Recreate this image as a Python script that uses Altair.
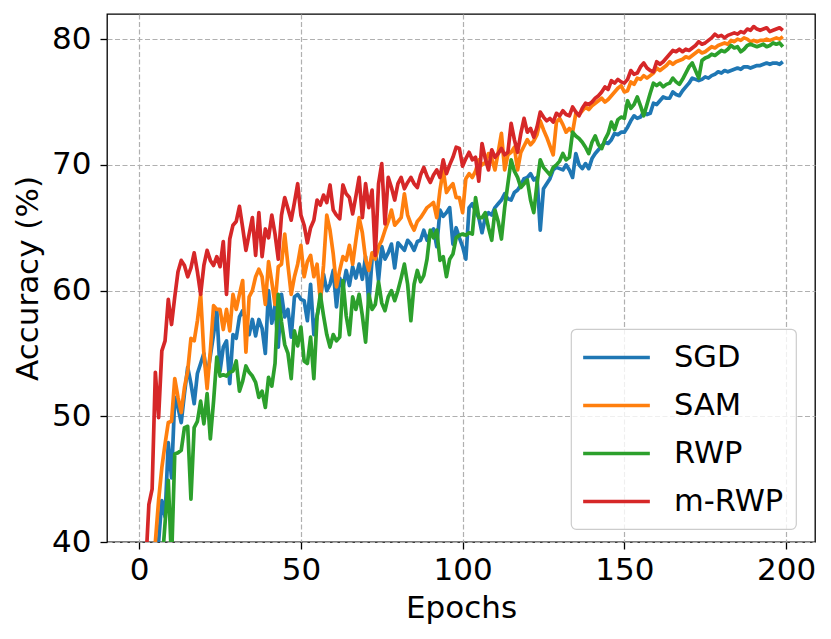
import altair as alt
import pandas as pd

methods = ["SGD", "SAM", "RWP", "m-RWP"]
colors = ["#1f77b4", "#ff7f0e", "#2ca02c", "#d62728"]
epochs = list(range(200))
x_ticks = [0, 50, 100, 150, 200]
y_ticks = [40, 50, 60, 70, 80]

sgd = [
    20.0, 25.0, 29.0, 32.0, 35.0, 37.0, 40.0, 43.3, 42.0, 47.9,
    45.1, 51.5, 50.7, 49.5, 51.8, 53.9, 52.6, 51.0, 53.4, 54.2,
    55.0, 53.1, 54.8, 56.5, 58.4, 53.6, 55.5, 56.0, 52.6, 56.5,
    56.2, 57.9, 58.4, 57.7, 56.5, 57.7, 56.4, 57.7, 57.0, 55.0,
    60.0, 57.4, 58.8, 55.5, 59.7, 57.9, 58.5, 56.3, 59.5, 59.7,
    59.3, 59.2, 57.6, 60.5, 56.5, 58.0, 59.2, 61.3, 60.0, 60.5,
    61.6, 58.7, 61.0, 60.2, 61.6, 60.4, 61.9, 61.0, 62.1, 60.9,
    62.7, 58.9, 62.5, 63.3, 60.8, 63.5, 62.5, 63.0, 63.7, 61.8,
    63.8, 63.5, 63.2, 64.0, 63.7, 63.2, 63.9, 64.0, 64.8, 64.0,
    64.6, 64.9, 63.5, 66.4, 65.9, 66.2, 66.6, 63.7, 65.0, 64.2,
    63.5, 62.5, 66.6, 66.9, 66.3, 65.8, 64.6, 65.8, 66.2, 66.0,
    66.6, 66.9, 67.2, 67.7, 67.3, 67.2, 67.8, 68.0, 68.4, 68.9,
    69.0, 69.3, 68.8, 69.0, 64.8, 68.1, 68.5, 68.9, 69.6, 69.8,
    69.7, 69.6, 70.0, 69.6, 69.0, 70.9, 70.0, 69.7, 70.1, 69.7,
    70.5, 70.9, 71.2, 71.5, 71.8, 71.7, 72.0, 72.5, 72.4, 72.6,
    72.6, 73.0, 73.5, 73.9, 73.7, 73.8, 74.2, 74.0, 74.1, 74.9,
    74.8, 75.1, 75.4, 75.3, 75.3, 75.8, 75.6, 75.5, 75.9, 76.2,
    76.5, 76.9, 76.8, 76.7, 76.8, 77.0, 76.9, 77.1, 77.2, 77.4,
    77.3, 77.5, 77.4, 77.5, 77.6, 77.7, 77.6, 77.8, 77.8, 77.7,
    77.8, 77.9, 77.9, 78.0, 78.1, 78.0, 78.1, 78.1, 78.0, 78.2,
]

sam = [
    22.0, 27.0, 31.0, 35.0, 38.0, 40.0, 43.3, 45.9, 47.8, 49.5,
    49.6, 53.0, 51.5, 50.3, 52.3, 53.6, 56.2, 56.0, 57.6, 59.7,
    55.0, 52.2, 55.2, 58.8, 58.5, 58.5, 56.9, 58.5, 56.8, 59.7,
    58.5, 59.7, 60.8, 55.1, 59.5, 60.0, 61.1, 61.7, 61.1, 58.9,
    62.3, 60.7, 58.9, 61.9, 62.1, 64.5, 62.0, 59.7, 61.1, 62.1,
    63.6, 61.1, 62.3, 62.8, 61.1, 62.1, 59.2, 62.0, 66.0, 64.8,
    62.9, 60.3, 61.6, 62.7, 62.4, 63.6, 62.1, 64.0, 65.8, 64.6,
    62.5, 61.6, 63.0, 62.5, 63.5, 64.0, 64.8, 65.5, 66.4, 65.2,
    65.5, 65.8, 67.7, 66.0, 65.3, 64.8, 65.5, 65.8, 66.2, 66.6,
    66.8, 67.0, 65.8, 68.0, 69.6, 67.8, 68.2, 68.5, 67.4, 67.4,
    66.2, 68.9, 69.3, 69.0, 69.5, 70.4, 70.0, 70.2, 70.9, 70.5,
    69.6, 71.0, 72.5, 69.6, 70.8, 71.0, 71.4, 69.6, 71.0, 71.5,
    72.0, 71.6, 71.9, 72.4, 73.5, 72.8, 72.2, 71.5, 70.8, 73.4,
    73.7, 73.2, 72.6, 72.9, 72.6, 74.1, 74.0, 74.3, 74.6, 74.4,
    74.7, 74.9, 75.1, 75.3, 75.0, 75.2, 75.5, 75.8, 76.1, 76.3,
    75.8, 75.9, 76.6, 76.4, 76.9, 76.8, 77.1, 76.9, 77.1, 77.3,
    77.7, 77.5, 77.7, 77.9, 78.2, 78.0, 78.2, 78.3, 78.4, 78.6,
    78.5, 78.7, 78.9, 79.1, 78.9, 79.0, 79.2, 79.4, 79.3, 79.5,
    79.6, 79.7, 79.6, 79.9, 79.8, 80.0, 79.9, 80.1, 80.0, 79.8,
    79.9, 79.8, 79.9, 79.9, 80.0, 79.9, 80.0, 80.1, 80.0, 80.2,
]

rwp = [
    18.0, 22.0, 26.0, 29.0, 32.0, 34.0, 36.0, 38.0, 41.5, 44.9,
    38.5, 47.0, 47.1, 47.3, 49.1, 49.2, 43.4, 49.1, 49.6, 51.2,
    49.4, 51.8, 48.2, 51.2, 54.7, 53.2, 53.3, 53.2, 53.5, 53.6,
    54.4, 52.0, 52.8, 54.0, 53.5, 53.2, 52.7, 51.5, 52.0, 50.7,
    53.1, 52.4, 54.2, 59.7, 57.5, 55.7, 55.0, 53.0, 56.8, 55.6,
    57.1, 54.4, 54.2, 56.3, 53.0, 57.9, 59.7, 58.0, 56.5, 55.5,
    56.5, 56.0, 56.3, 60.8, 58.0, 56.5, 59.5, 58.5, 59.7, 58.0,
    55.9, 59.7, 58.5, 58.9, 60.7, 59.0, 58.4, 59.5, 60.0, 59.2,
    60.0, 61.0, 62.1, 60.5, 57.6, 60.5, 61.6, 60.7, 61.2, 62.5,
    64.8, 64.2, 64.8, 62.4, 62.7, 61.1, 62.5, 62.9, 64.2, 64.4,
    64.5, 64.4, 64.6, 64.5, 67.4, 65.8, 65.8, 66.2, 65.0, 64.0,
    66.4, 65.5, 64.1, 66.6, 68.5, 70.4, 69.5, 69.0, 68.2, 68.5,
    68.8, 67.2, 66.2, 68.5, 70.4, 69.8, 69.5, 69.2, 69.8, 70.0,
    70.3, 70.9, 70.4, 70.6, 72.6, 72.3, 72.1, 71.8, 71.4, 70.9,
    71.8, 72.3, 71.6, 71.3, 72.0, 72.5, 73.4, 72.8, 73.6, 73.8,
    73.7, 75.1, 74.5, 74.8, 75.4, 74.7, 73.9, 74.8, 75.7, 76.5,
    76.3, 76.5, 76.2, 76.4, 76.5, 76.9, 76.6, 76.4, 76.8, 77.3,
    77.8, 78.1, 77.5, 76.9, 78.3, 78.5, 78.6, 78.8, 78.7, 78.9,
    79.1, 79.0, 79.2, 79.5, 79.3, 79.4, 79.0, 79.2, 79.5, 79.6,
    79.5, 79.4, 79.5, 79.6, 79.4, 79.5, 79.7, 79.6, 79.7, 79.4,
]

mrwp = [
    25.0, 32.0, 38.0, 43.0, 44.2, 53.5, 49.9, 55.2, 56.0, 59.3,
    57.3, 59.5, 61.5, 62.4, 62.0, 61.1, 61.8, 63.0, 61.5, 59.7,
    62.0, 63.2, 62.4, 62.0, 62.7, 61.9, 63.9, 59.7, 64.1, 65.2,
    65.5, 66.7, 65.0, 63.2, 64.5, 65.8, 62.8, 66.2, 62.7, 64.9,
    64.2, 66.0, 64.5, 62.5, 66.0, 67.4, 66.5, 65.6, 67.0, 68.5,
    66.0, 65.2, 63.8, 65.0, 65.6, 67.2, 66.8, 67.6, 67.0, 68.4,
    66.4, 66.0, 65.7, 68.4, 67.7, 67.4, 66.1, 67.5, 69.0, 65.8,
    68.5, 66.6, 68.0, 62.8, 68.5, 70.1, 65.3, 69.0, 68.2, 67.2,
    68.5, 69.0, 68.1, 68.6, 69.0, 68.5, 68.2, 69.2, 69.8, 69.1,
    68.6, 69.2, 69.6, 69.0, 70.4, 69.3, 70.0, 70.6, 71.4, 71.3,
    69.9, 70.5, 71.0, 70.4, 70.6, 68.7, 71.7, 70.5, 69.6, 71.2,
    70.6, 70.9, 71.3, 70.8, 71.0, 73.3, 72.0, 71.0, 72.5, 73.7,
    72.6, 72.9, 72.2, 73.0, 74.2, 73.8, 73.5, 73.7, 73.4, 74.1,
    73.9, 74.3, 74.0, 73.9, 74.6, 74.2, 73.9, 74.5, 74.9, 74.8,
    75.0, 75.3, 75.5, 75.8, 76.2, 76.0, 76.7, 76.5, 76.8, 76.6,
    76.5, 76.8, 77.5, 77.2, 77.3, 77.8, 78.1, 77.7, 77.5, 77.4,
    78.2, 78.0, 78.2, 78.5, 78.8, 79.1, 79.0, 79.2, 79.0, 79.2,
    79.1, 79.3, 79.5, 79.8, 79.6, 79.7, 79.9, 80.1, 80.4, 80.2,
    80.3, 80.1, 80.3, 80.4, 80.5, 80.4, 80.6, 80.5, 80.8, 80.7,
    81.0, 80.8, 80.7, 80.8, 80.9, 80.6, 80.7, 80.8, 80.9, 80.7,
]

series = [sgd, sam, rwp, mrwp]
rows = []
for order, (name, vals) in enumerate(zip(methods, series)):
    for e, v in zip(epochs, vals):
        rows.append({"Epochs": e, "Accuracy": v, "Method": name, "order": order})
df = pd.DataFrame(rows)

FONT = "DejaVu Sans"

chart = (
    alt.Chart(df)
    .mark_line(clip=True, strokeWidth=3.7, strokeJoin="round", strokeCap="butt")
    .encode(
        x=alt.X(
            "Epochs:Q",
            scale=alt.Scale(domain=[-9.95, 208.95], nice=False, zero=False),
            axis=alt.Axis(
                values=x_ticks,
                title="Epochs",
                labelBaseline="alphabetic",
                labelPadding=30,
                titleBaseline="alphabetic",
                titleY=75,
            ),
        ),
        y=alt.Y(
            "Accuracy:Q",
            scale=alt.Scale(domain=[40, 82], nice=False, zero=False),
            axis=alt.Axis(
                values=y_ticks,
                title="Accuracy (%)",
                labelPadding=9,
                titleBaseline="alphabetic",
                titleX=-70,
            ),
        ),
        color=alt.Color(
            "Method:N",
            scale=alt.Scale(domain=methods, range=colors),
            sort=methods,
            legend=alt.Legend(
                title=None,
                orient="none",
                legendX=464,
                legendY=315,
            ),
        ),
        order=alt.Order("order:Q"),
    )
    .properties(
        width=708,
        height=528,
        autosize=alt.AutoSizeParams(type="none"),
        padding={"left": 99, "top": 6, "right": 8, "bottom": 95},
    )
    .configure_view(stroke="black", strokeWidth=1.3, fill="white")
    .configure_axis(
        domain=False,
        grid=True,
        gridColor="#b0b0b0",
        gridDash=[5, 2.5],
        gridWidth=1.2,
        tickColor="black",
        tickSize=7,
        tickWidth=1.3,
        labelFont=FONT,
        labelFontSize=31,
        labelColor="black",
        titleFont=FONT,
        titleFontSize=31,
        titleFontWeight="normal",
        titleColor="black",
    )
    .configure_legend(
        fillColor="rgba(255,255,255,0.8)",
        strokeColor="#cccccc",
        strokeWidth=1.2,
        cornerRadius=5,
        padding=12,
        symbolType="M-2.3,0H2.3",
        symbolSize=841,
        symbolStrokeWidth=3.5,
        symbolOffset=17,
        labelFont=FONT,
        labelFontSize=30.5,
        labelColor="black",
        labelOffset=41,
        rowPadding=16,
    )
)

chart.save("out.html", embed_options={"renderer": "svg", "actions": False})
